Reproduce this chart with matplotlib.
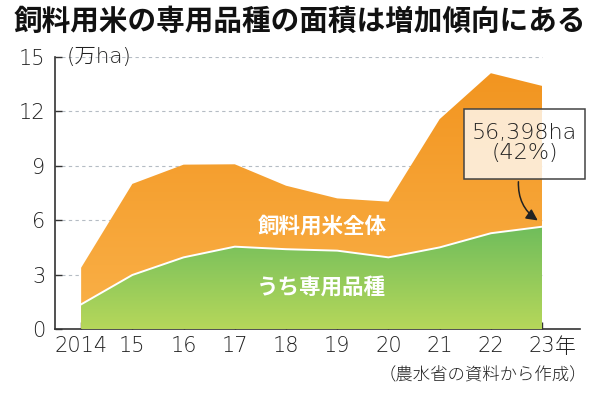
import matplotlib
matplotlib.use('Agg')
import matplotlib.pyplot as plt
from matplotlib.colors import LinearSegmentedColormap
from matplotlib.patches import Rectangle
import numpy as np

plt.rcParams['font.family'] = ['Noto Sans CJK JP', 'DejaVu Sans']
num_font = ['DejaVu Sans', 'Noto Sans CJK JP']

years = [2014, 2015, 2016, 2017, 2018, 2019, 2020, 2021, 2022, 2023]
year_labels = ['2014', '15', '16', '17', '18', '19', '20', '21', '22', '23']
total = [3.38, 8.0, 9.06, 9.08, 7.9, 7.2, 7.02, 11.57, 14.1, 13.4]
dedicated = [1.36, 2.98, 3.95, 4.54, 4.4, 4.32, 3.95, 4.5, 5.28, 5.64]
yticks = [0, 3, 6, 9, 12, 15]

fig = plt.figure(figsize=(6, 3.95), dpi=100)
ax = fig.add_axes([0.0917, 0.167, 0.875, 0.689])
x0, x1 = 2013.49, 2023.74

# dashed grid behind the areas
for v in yticks[1:]:
    ax.plot([x0, years[-1]], [v, v], ls=(0, (3, 3)), lw=0.8, color='#b5bcc4', zorder=1)

# orange area with gradient
orange = LinearSegmentedColormap.from_list('o', ['#fab149', '#f29520'])
poly_o = ax.fill_between(years, 0, total, color='none', lw=0, zorder=2)
grad = np.linspace(0, 1, 256).reshape(-1, 1)
im = ax.imshow(grad, extent=[years[0], years[-1], 0, max(total)], origin='lower',
               cmap=orange, aspect='auto', zorder=2)
im.set_clip_path(poly_o.get_paths()[0], transform=ax.transData)

# green area with gradient
green = LinearSegmentedColormap.from_list('g', ['#b6d75a', '#6fbd5c'])
poly_g = ax.fill_between(years, 0, dedicated, color='none', lw=0, zorder=3)
im2 = ax.imshow(grad, extent=[years[0], years[-1], 0, max(dedicated)], origin='lower',
                cmap=green, aspect='auto', zorder=3)
im2.set_clip_path(poly_g.get_paths()[0], transform=ax.transData)
ax.plot(years, dedicated, color='white', lw=1.4, zorder=4)

ax.set_xlim(x0, x1)
ax.set_ylim(0, 15)

for s in ['top', 'right']:
    ax.spines[s].set_visible(False)
for s in ['left', 'bottom']:
    ax.spines[s].set_color('#333333')
    ax.spines[s].set_linewidth(1.2)

ax.set_yticks(yticks)
ax.set_yticklabels([str(v) for v in yticks])
ax.set_xticks(years)
ax.set_xticklabels(year_labels)
ax.tick_params(axis='both', direction='in', length=5, width=1, color='#333333',
               labelsize=15, labelcolor='#222222')
for lab in ax.get_xticklabels() + ax.get_yticklabels():
    lab.set_family(num_font)
    lab.set_fontweight(200)
ax.tick_params(axis='y', pad=7)
ax.tick_params(axis='x', pad=5)
ax.annotate('年', xy=(years[-1], 0), xytext=(9.5, -5), textcoords='offset points',
            ha='left', va='top', fontsize=15, fontweight='light', color='#222222',
            annotation_clip=False)

ax.text(x0 + 0.22, 15, '(万ha)', fontsize=15.5, family=num_font, fontweight=200,
        color='#222222', va='center', ha='left')

ax.text(2018.7, 5.7, '飼料用米全体', fontsize=15.5, color='white', fontweight='bold',
        ha='center', va='center', zorder=5)
ax.text(2018.7, 2.3, 'うち専用品種', fontsize=15.5, color='white', fontweight='bold',
        ha='center', va='center', zorder=5)

# callout box
bx, by, bw, bh = 2021.48, 8.27, 2.36, 3.86
ax.add_patch(Rectangle((bx, by), bw, bh, fc='white', alpha=0.78,
                       ec='none', zorder=6, clip_on=False))
ax.add_patch(Rectangle((bx, by), bw, bh, fc='none',
                       ec='#444444', lw=1.1, zorder=6, clip_on=False))
ax.text(bx + bw / 2, by + bh / 2 + 0.05, '56,398ha\n(42%)', fontsize=16,
        family=num_font, fontweight=200, color='#222222', ha='center',
        va='center', linespacing=0.95, zorder=7)
ax.annotate('', xy=(2022.96, 5.9), xytext=(2022.54, by),
            arrowprops=dict(arrowstyle='-|>', color='#222222', lw=1.1,
                            mutation_scale=17, connectionstyle='arc3,rad=0.3'),
            zorder=7)

fig.text(0.022, 0.946, '飼料用米の専用品種の面積は増加傾向にある', fontsize=20.6,
         fontweight='bold', color='#111111', ha='left', va='center')
fig.text(0.979, 0.05, '（農水省の資料から作成）', fontsize=12.5, fontweight='light',
         color='#222222', ha='right', va='center')

fig.savefig('out.png', dpi=100)
